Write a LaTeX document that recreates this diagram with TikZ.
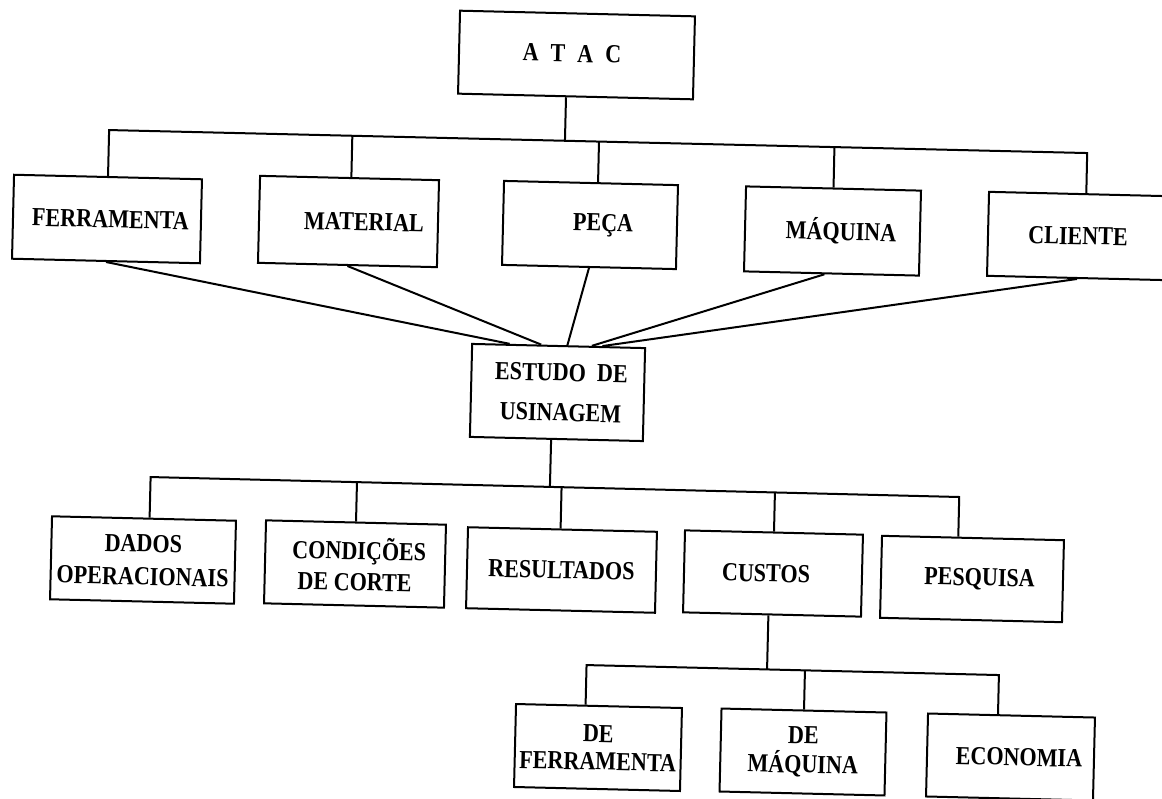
\documentclass[tikz,border=0pt]{standalone}
\usepackage{fontspec}
\setmainfont{Liberation Serif}
\newfontfamily\boxfont{Liberation Serif}[FakeStretch=0.85]
\usetikzlibrary{calc}
\begin{document}
\begin{tikzpicture}[x=1pt,y=-1pt,
  box/.style={draw, line width=2pt, rotate=-1.38, inner sep=0pt, align=center,
    font=\boxfont\fontsize{26}{30}\selectfont\bfseries},
  conn/.style={line width=2pt, line join=miter}]
\path[use as bounding box, fill=white] (0,0) rectangle (1162,798);

% top
\node[box, minimum width=235pt, minimum height=83pt] (atac) at (576.5,55) {\raisebox{3pt}{A\kern12pt T\kern12pt A\kern12pt C}\hspace*{9pt}};

\node[box, minimum width=188pt, minimum height=84pt] (ferr) at (107,219) {\hspace*{7pt}FERRAMENTA};
\node[box, minimum width=179pt, minimum height=87pt] (mat) at (348.5,221.5) {\hspace*{31pt}MATERIAL};
\node[box, minimum width=174pt, minimum height=84pt] (peca) at (590,225) {\hspace*{26pt}PEÇA};
\node[box, minimum width=175pt, minimum height=85pt] (maq) at (832.5,231) {\hspace*{17pt}MÁQUINA};
\node[box, minimum width=180pt, minimum height=84pt] (cli) at (1078,236) {CLIENTE};

\node[box, minimum width=173pt, minimum height=93pt] (est) at (557.5,392.5) {\hspace*{7pt}ESTUDO\ \ DE\\[10pt]\hspace*{7pt}USINAGEM};

% middle row
\node[box, minimum width=184pt, minimum height=83pt] (dados) at (143,560) {DADOS\\[3pt]OPERACIONAIS};
\node[box, minimum width=180pt, minimum height=83pt] (cond) at (355,564) {\hspace*{8pt}CONDIÇÕES\\[1pt]DE CORTE};
\node[box, minimum width=189pt, minimum height=81pt] (res) at (561.5,570) {RESULTADOS};
\node[box, minimum width=178pt, minimum height=82pt] (cus) at (773,573.5) {CUSTOS\hspace*{14pt}};
\node[box, minimum width=182pt, minimum height=82pt] (pes) at (972,579) {\hspace*{15pt}PESQUISA};

% bottom row
\node[box, minimum width=166pt, minimum height=83pt] (def) at (598,747.5) {DE\\[-2pt]FERRAMENTA};
\node[box, minimum width=165pt, minimum height=83pt] (dem) at (803,752) {DE\\[-1pt]MÁQUINA};
\node[box, minimum width=167pt, minimum height=83pt] (eco) at (1010.5,757) {\hspace*{17pt}ECONOMIA};

% top bus
\coordinate (ta) at (107,130);
\coordinate (tb) at (1085,153);
\coordinate (sAtac) at ($(atac.south west)!0.46!(atac.south east)$);
\coordinate (sFerr) at ($(ferr.north west)!0.50!(ferr.north east)$);
\coordinate (sMat)  at ($(mat.north west)!0.51!(mat.north east)$);
\coordinate (sPeca) at ($(peca.north west)!0.54!(peca.north east)$);
\coordinate (sMaq)  at ($(maq.north west)!0.50!(maq.north east)$);
\coordinate (sCli)  at ($(cli.north west)!0.54!(cli.north east)$);
\foreach \n in {sAtac,sFerr,sMat,sPeca,sMaq,sCli}
  \coordinate (p\n) at ($(ta)!(\n)!(tb)$);
\draw[conn] (sFerr) -- (psFerr) -- (psCli) -- (sCli);
\foreach \n in {sAtac,sMat,sPeca,sMaq}
  \draw[conn] (\n) -- (p\n);

% lines to ESTUDO
\draw[conn] (ferr.south) -- ($(est.north west)!0.22!(est.north east)$);
\draw[conn] (mat.south) -- ($(est.north west)!0.40!(est.north east)$);
\draw[conn] (peca.south) -- ($(est.north west)!0.55!(est.north east)$);
\draw[conn] ($(maq.south west)!0.46!(maq.south east)$) -- ($(est.north west)!0.69!(est.north east)$);
\draw[conn] (cli.south) -- ($(est.north west)!0.75!(est.north east)$);

% middle bus
\coordinate (ma) at (149,477);
\coordinate (mb) at (959,497);
\coordinate (sEst)   at ($(est.south west)!0.47!(est.south east)$);
\coordinate (sDados) at ($(dados.north west)!0.53!(dados.north east)$);
\coordinate (sCond)  at ($(cond.north west)!0.50!(cond.north east)$);
\coordinate (sRes)   at ($(res.north west)!0.49!(res.north east)$);
\coordinate (sCus)   at ($(cus.north west)!0.50!(cus.north east)$);
\coordinate (sPes)   at ($(pes.north west)!0.42!(pes.north east)$);
\foreach \n in {sEst,sDados,sCond,sRes,sCus,sPes}
  \coordinate (p\n) at ($(ma)!(\n)!(mb)$);
\draw[conn] (sDados) -- (psDados) -- (psPes) -- (sPes);
\foreach \n in {sEst,sCond,sRes,sCus}
  \draw[conn] (\n) -- (p\n);

% bottom bus
\coordinate (ba) at (584,665);
\coordinate (bb) at (997,675);
\coordinate (sCusB) at ($(cus.south west)!0.48!(cus.south east)$);
\coordinate (sDef)  at ($(def.north west)!0.42!(def.north east)$);
\coordinate (sDem)  at ($(dem.north west)!0.50!(dem.north east)$);
\coordinate (sEco)  at ($(eco.north west)!0.42!(eco.north east)$);
\foreach \n in {sCusB,sDef,sDem,sEco}
  \coordinate (p\n) at ($(ba)!(\n)!(bb)$);
\draw[conn] (sDef) -- (psDef) -- (psEco) -- (sEco);
\foreach \n in {sCusB,sDem}
  \draw[conn] (\n) -- (p\n);
\end{tikzpicture}
\end{document}
